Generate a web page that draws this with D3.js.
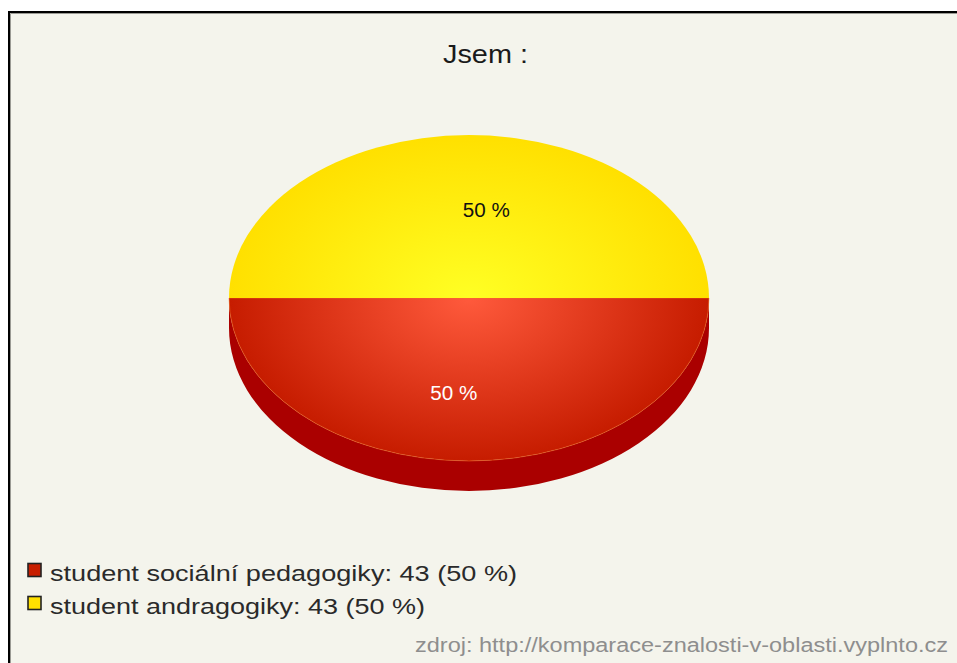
<!DOCTYPE html>
<html><head><meta charset="utf-8">
<script src="https://cdn.jsdelivr.net/npm/d3@7"></script>
<style>html,body{margin:0;padding:0;background:#fff;overflow:hidden;}svg{display:block;}</style>
</head><body>
<script>
const title = "Jsem :";
const categories = ["student sociální pedagogiky", "student andragogiky"];
const values = [43, 43];
const topColorsCenter = ["#ff5a3c", "#ffff24"];
const topColorsEdge = ["#c61c00", "#ffe000"];
const sideColors = ["#aa0000", "#d4b800"];
const sourceText = "zdroj: http://komparace-znalosti-v-oblasti.vyplnto.cz";

(function () {
const W = 957, H = 663;
const svg = d3.select("body").append("svg").attr("width", W).attr("height", H);
svg.append("rect").attr("width", W).attr("height", H).attr("fill", "#ffffff");
svg.append("rect").attr("x", 9).attr("y", 12).attr("width", W + 200).attr("height", H + 200)
  .attr("fill", "#f4f4ec").attr("stroke", "#000").attr("stroke-width", 2);
svg.append("path").attr("d", `M10.5,${H} V13.5 H${W}`).attr("fill", "none").attr("stroke", "#9a9a94").attr("stroke-width", 1);

const font = "'Liberation Sans', Arial, sans-serif";
svg.append("text").attr("x", 485.5).attr("y", 63).attr("text-anchor", "middle")
  .attr("font-family", font).attr("font-size", 25).attr("fill", "#1a1a1a")
  .attr("textLength", 85).attr("lengthAdjust", "spacingAndGlyphs").text(title);

// pie geometry
const cx = 469, cy = 298, rx = 240, ry = 163, depth = 30;
const total = d3.sum(values);
const pie = d3.pie().sort(null).startAngle(Math.PI / 2).endAngle(Math.PI / 2 + 2 * Math.PI);
const arcs = pie(values);
const arc = d3.arc().innerRadius(0).outerRadius(rx);

const defs = svg.append("defs");
arcs.forEach((a, i) => {
  const g = defs.append("radialGradient").attr("id", "g" + i)
    .attr("gradientUnits", "userSpaceOnUse").attr("cx", 0).attr("cy", 0).attr("r", rx);
  g.append("stop").attr("offset", "0%").attr("stop-color", topColorsCenter[i]);
  g.append("stop").attr("offset", "100%").attr("stop-color", topColorsEdge[i]);
});

const pt = (a, dy = 0) => [cx + rx * Math.sin(a), cy - ry * Math.cos(a) + dy];

// sides (front-facing parts only)
const side = svg.append("g");
arcs.forEach((a, i) => {
  const s = Math.max(a.startAngle, Math.PI / 2), e = Math.min(a.endAngle, 3 * Math.PI / 2);
  if (e <= s) return;
  const p0 = pt(s), p1 = pt(e), p2 = pt(e, depth), p3 = pt(s, depth);
  const large = (e - s) > Math.PI ? 1 : 0;
  side.append("path")
    .attr("d", `M${p0} A${rx},${ry} 0 ${large} 1 ${p1} L${p2} A${rx},${ry} 0 ${large} 0 ${p3} Z`)
    .attr("fill", sideColors[i]);
});

// top face
const face = svg.append("g").attr("transform", `translate(${cx},${cy}) scale(1,${ry / rx})`);
face.selectAll("path").data(arcs).join("path")
  .attr("d", arc).attr("fill", (d, i) => `url(#g${i})`)
  .attr("stroke", (d, i) => i === 0 ? "#f07020" : "none").attr("stroke-width", 0.6);

// labels
const labelColors = ["#ffffff", "#111111"];
const la = d => (d.startAngle + d.endAngle) / 2 + 0.12;
svg.append("g").selectAll("text").data(arcs).join("text")
  .attr("x", d => cx + 1 + 0.565 * rx * Math.sin(la(d)))
  .attr("y", d => cy - 0.565 * ry * Math.cos(la(d)) + 10.5)
  .attr("text-anchor", "middle").attr("font-family", font).attr("font-size", 20)
  .attr("textLength", 47).attr("lengthAdjust", "spacingAndGlyphs")
  .attr("fill", (d, i) => labelColors[i])
  .text(d => Math.round(d.value / total * 100) + " %");

// legend
const leg = svg.append("g");
categories.forEach((c, i) => {
  const y0 = 563 + i * 33;
  leg.append("rect").attr("x", 28).attr("y", y0 + 0.5).attr("width", 13).attr("height", 13)
    .attr("fill", i === 0 ? "#c81e00" : "#ffe000").attr("stroke", "#222").attr("stroke-width", 1.6);
  const t = leg.append("text").attr("x", 50).attr("y", y0 + 18)
    .attr("font-family", font).attr("font-size", 22).attr("fill", "#2a2a2a")
    .text(`${c}: ${values[i]} (${Math.round(values[i] / total * 100)} %)`);
  t.attr("textLength", i === 0 ? 467 : 375).attr("lengthAdjust", "spacingAndGlyphs");
});

svg.append("text").attr("x", 948).attr("y", 652).attr("text-anchor", "end")
  .attr("font-family", font).attr("font-size", 20).attr("fill", "#8e8e8e")
  .attr("textLength", 533).attr("lengthAdjust", "spacingAndGlyphs").text(sourceText);
})();
</script>
</body></html>
